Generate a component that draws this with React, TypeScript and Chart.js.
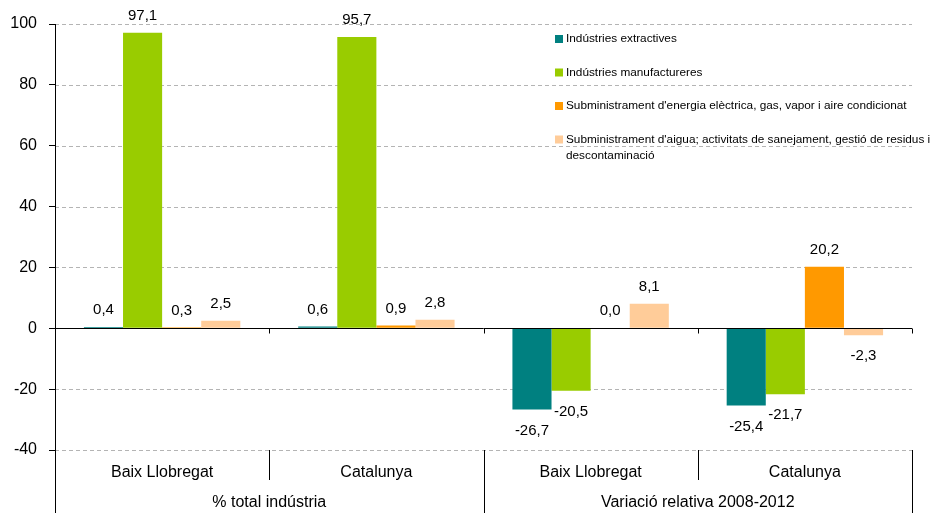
import React, { useEffect, useRef } from 'react';
import { Chart, registerables } from 'chart.js';
Chart.register(...registerables);

const categories = ['Baix Llobregat', 'Catalunya', 'Baix Llobregat', 'Catalunya'];
const groupLabels = ['% total indústria', 'Variació relativa 2008-2012'];
const seriesNames = [
  'Indústries extractives',
  'Indústries manufactureres',
  "Subministrament d'energia elèctrica, gas, vapor i aire condicionat",
  "Subministrament d'aigua; activitats de sanejament, gestió de residus i\ndescontaminació",
];
const extractives = [0.4, 0.6, -26.7, -25.4];
const manufactureres = [97.1, 95.7, -20.5, -21.7];
const energia = [0.3, 0.9, 0.0, 20.2];
const aigua = [2.5, 2.8, 8.1, -2.3];
const seriesColors = ['#008080', '#99CC00', '#FF9900', '#FFCC99'];
const yMin = -40;
const yMax = 100;
const yStep = 20;

const FONT = "'Liberation Sans', Arial, sans-serif";

const customPlugin = {
  id: 'customDraw',
  beforeDatasetsDraw(chart: any) {
    const { ctx, chartArea } = chart;
    const y = chart.scales.y;
    ctx.save();
    ctx.lineWidth = 1;
    ctx.strokeStyle = '#b4b4b4';
    ctx.setLineDash([4, 3]);
    for (let v = yMin; v <= yMax; v += yStep) {
      if (v === 0) continue;
      const py = Math.round(y.getPixelForValue(v)) + 0.5;
      ctx.beginPath();
      ctx.moveTo(chartArea.left, py);
      ctx.lineTo(chartArea.right, py);
      ctx.stroke();
    }
    ctx.restore();
  },
  afterDatasetsDraw(chart: any) {
    const { ctx, chartArea } = chart;
    const y = chart.scales.y;
    const x = chart.scales.x;
    const H = chart.height;
    ctx.save();
    ctx.setLineDash([]);
    ctx.strokeStyle = '#000';
    ctx.lineWidth = 1;
    const zy = Math.round(y.getPixelForValue(0)) + 0.5;
    // zero line
    ctx.beginPath();
    ctx.moveTo(chartArea.left, zy);
    ctx.lineTo(chartArea.right, zy);
    ctx.stroke();
    // y axis line
    const ax = Math.round(chartArea.left) + 0.5;
    ctx.beginPath();
    ctx.moveTo(ax, chartArea.top);
    ctx.lineTo(ax, H);
    ctx.stroke();
    const n = categories.length;
    const w = (chartArea.right - chartArea.left) / n;
    for (let i = 1; i <= n; i++) {
      const px = Math.round(chartArea.left + i * w) + 0.5;
      ctx.beginPath();
      ctx.moveTo(px, zy);
      ctx.lineTo(px, zy + 5);
      ctx.stroke();
      const isGroup = i % 2 === 0;
      ctx.beginPath();
      ctx.moveTo(px, chartArea.bottom);
      ctx.lineTo(px, isGroup ? H : chartArea.bottom + 30);
      ctx.stroke();
    }
    // data labels
    ctx.fillStyle = '#000';
    ctx.font = `15px ${FONT}`;
    ctx.textAlign = 'center';
    ctx.textBaseline = 'middle';
    chart.data.datasets.forEach((ds: any, di: number) => {
      const meta = chart.getDatasetMeta(di);
      meta.data.forEach((bar: any, i: number) => {
        const v = ds.data[i];
        const txt = v.toFixed(1).replace('.', ',');
        const ty = v >= 0 ? bar.y - 17 : bar.y + 21;
        ctx.fillText(txt, bar.x, ty);
      });
    });
    // category labels
    ctx.font = `16px ${FONT}`;
    for (let i = 0; i < n; i++) {
      ctx.fillText(categories[i], x.getPixelForValue(i), chartArea.bottom + 23);
    }
    for (let g = 0; g < groupLabels.length; g++) {
      const cx = chartArea.left + (g * 2 + 1) * w;
      ctx.fillText(groupLabels[g], cx, chartArea.bottom + 53);
    }
    // legend
    ctx.font = `11.8px ${FONT}`;
    ctx.textAlign = 'left';
    const lx = 555;
    let ly = 39;
    seriesNames.forEach((name, si) => {
      ctx.fillStyle = seriesColors[si];
      ctx.fillRect(lx, ly - 4, 8, 8);
      ctx.fillStyle = '#000';
      const lines = name.split('\n');
      lines.forEach((ln, li) => {
        ctx.fillText(ln, lx + 11, ly + li * 16);
      });
      ly += 33.5;
    });
    ctx.restore();
  },
};

export default function App() {
  const ref = useRef<HTMLCanvasElement | null>(null);
  useEffect(() => {
    document.body.style.margin = '0';
    const canvas = ref.current;
    if (!canvas) return;
    const series = [extractives, manufactureres, energia, aigua];
    const chart = new Chart(canvas, {
      type: 'bar',
      data: {
        labels: categories,
        datasets: series.map((d, i) => ({
          label: seriesNames[i],
          data: d,
          backgroundColor: seriesColors[i],
          borderWidth: 0,
          barPercentage: 1,
          categoryPercentage: 0.73,
        })),
      },
      options: {
        animation: false,
        responsive: false,
        maintainAspectRatio: false,
        layout: { padding: { top: 24, right: 22, bottom: 63, left: 0 } },
        plugins: {
          legend: { display: false },
          tooltip: { enabled: false },
        },
        scales: {
          x: { display: false },
          y: {
            min: yMin,
            max: yMax,
            afterFit: (s: any) => {
              s.width = 55;
            },
            ticks: {
              stepSize: yStep,
              padding: 12,
              color: '#000',
              font: { family: FONT, size: 16 },
            },
            grid: {
              drawOnChartArea: false,
              drawTicks: true,
              tickLength: 6,
              tickColor: '#000',
              color: '#000',
            },
            border: { display: false },
          },
        },
      },
      plugins: [customPlugin],
    });
    return () => chart.destroy();
  }, []);
  return (
    <div style={{ width: 934, height: 513, background: '#fff' }}>
      <canvas ref={ref} width={934} height={513} style={{ display: 'block' }} />
    </div>
  );
}
